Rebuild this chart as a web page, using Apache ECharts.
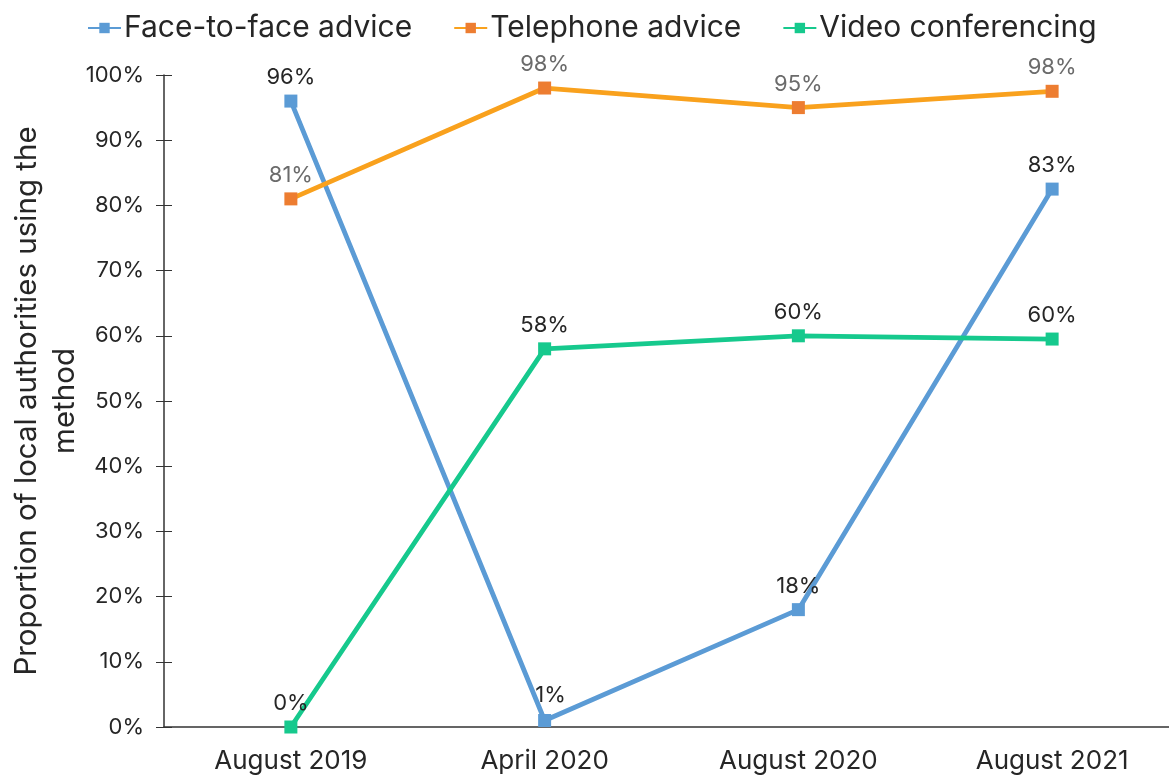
<!DOCTYPE html>
<html>
<head>
<meta charset="utf-8">
<script src="https://cdn.jsdelivr.net/npm/echarts@6/dist/echarts.min.js"></script>
<style>
  html, body { margin: 0; padding: 0; background: #fff; }
  #chart { width: 1169px; height: 776px; }
</style>
</head>
<body>
<div id="chart"></div>
<script>
// categories and values
const periods = ['August 2019', 'April 2020', 'August 2020', 'August 2021']
const faceToFace = [96, 1, 18, 82.5]
const telephone = [81, 98, 95, 97.5]
const videoConf = [0, 58, 60, 59.5]
const yTicks = [0, 10, 20, 30, 40, 50, 60, 70, 80, 90, 100]

const font = 'Inter'
const dark = '#262626'

function lineSeries(name, data, lineColor, markColor, labelColor) {
  return {
    name: name,
    type: 'line',
    data: data,
    symbol: 'rect',
    symbolSize: 13,
    showAllSymbol: true,
    lineStyle: { color: lineColor, width: 4.8 },
    itemStyle: { color: markColor },
    label: {
      show: true,
      position: 'top',
      distance: 6,
      color: labelColor,
      fontFamily: font,
      fontSize: 22,
      formatter: p => Math.round(p.value) + '%'
    },
    z: 3
  }
}

const chart = echarts.init(document.getElementById('chart'))

const series = [
  lineSeries('Face-to-face advice', faceToFace, '#5B9BD5', '#5B9BD5', dark),
  lineSeries('Telephone advice', telephone, '#F9A11D', '#ED7D31', '#6B6B6B'),
  lineSeries('Video conferencing', videoConf, '#16C98D', '#16C98D', dark)
]
// the "1%" label sits a little to the right of its point
series[0].data = faceToFace.map((v, i) => i === 1
  ? { value: v, label: { offset: [6, -2] } }
  : v)

chart.setOption({
  animation: false,
  textStyle: { fontFamily: font },
  legend: {
    top: 8,
    left: 82,
    itemWidth: 33,
    itemHeight: 13,
    itemGap: 41,
    textStyle: { fontFamily: font, fontSize: 30, color: dark, padding: [0, 0, 0, -2] },
    data: series.map(s => s.name)
  },
  grid: { left: 164, right: -10, top: 75, bottom: 49, outerBoundsMode: 'none', containLabel: false },
  xAxis: [{
    type: 'category',
    data: periods,
    boundaryGap: true,
    axisLine: { lineStyle: { color: '#333', width: 1.5 } },
    axisTick: { alignWithLabel: true, length: 8, lineStyle: { color: '#333' } },
    axisLabel: { color: dark, fontFamily: font, fontSize: 26, margin: 21 }
  }, {
    type: 'category',
    data: periods,
    position: 'bottom',
    boundaryGap: true,
    axisLine: { show: false },
    axisTick: { inside: true, alignWithLabel: true, length: 8, lineStyle: { color: '#333' } },
    axisLabel: { show: false }
  }],
  yAxis: [{
    type: 'value',
    min: yTicks[0],
    max: yTicks[yTicks.length - 1],
    interval: 10,
    splitLine: { show: false },
    axisLine: { show: true, lineStyle: { color: '#333', width: 1.5 } },
    axisTick: { show: true, length: 8, lineStyle: { color: '#333' } },
    axisLabel: { color: dark, fontFamily: font, fontSize: 22, margin: 20, formatter: '{value}%' },
    name: 'Proportion of local authorities using the\nmethod',
    nameLocation: 'middle',
    nameGap: 80,
    nameMoveOverlap: false,
    nameTextStyle: { color: dark, fontFamily: font, fontSize: 29.5, lineHeight: 38, padding: [9, 0, 0, 0] }
  }, {
    type: 'value',
    min: yTicks[0],
    max: yTicks[yTicks.length - 1],
    interval: 10,
    position: 'left',
    splitLine: { show: false },
    axisLine: { show: false },
    axisTick: { show: true, inside: true, length: 8, lineStyle: { color: '#333' } },
    axisLabel: { show: false }
  }],
  series: series
})
</script>
</body>
</html>
